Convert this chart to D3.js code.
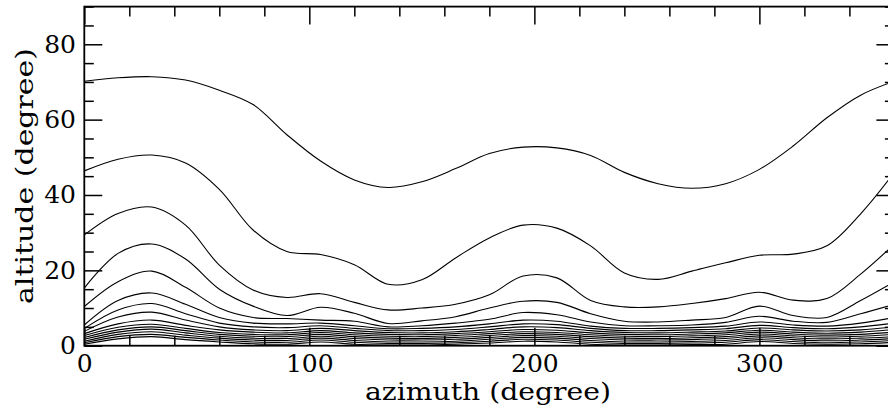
<!DOCTYPE html>
<meta charset="utf-8">
<html>
<head>
<script src="https://d3js.org/d3.v7.min.js"></script>
<style>
body { margin: 0; background: #fff; }
svg text { font-family: "DejaVu Serif", serif; fill: #000; }
.contour { fill: none; stroke: #000; stroke-width: 1.1; }
.tick line { stroke: #000; stroke-width: 1.5; }
.domain { display: none; }
</style>
</head>
<body>
<svg width="888" height="414"></svg>
<script>
// azimuth samples (degree)
var azimuth = [0, 15, 30, 45, 60, 75, 90, 105, 120, 135, 150, 165, 180,
               195, 210, 225, 240, 255, 270, 285, 300, 315, 330, 345, 360];

// altitude of each contour line (degree)
var line1 = [70.2, 71.1, 71.4, 70.5, 67.8, 64.0, 56.0, 49.0, 44.0, 42.0, 43.5, 47.0, 51.0,
             52.7, 52.5, 50.5, 46.0, 43.0, 41.8, 43.0, 46.8, 53.0, 60.5, 66.5, 70.2];
var line2 = [46.4, 49.5, 50.6, 48.5, 41.5, 30.7, 25.0, 24.2, 21.5, 16.3, 17.5, 23.3, 28.6,
             32.0, 31.2, 26.5, 19.3, 17.6, 19.8, 22.0, 24.0, 24.3, 26.5, 35.0, 46.0];
var line3 = [29.4, 35.1, 36.8, 32.0, 21.4, 14.8, 12.8, 13.8, 11.5, 9.5, 10.0, 11.0, 13.5,
             18.5, 18.0, 12.0, 10.3, 10.3, 11.2, 12.5, 14.2, 12.1, 12.5, 19.0, 27.0];
var line4 = [15.3, 24.5, 27.0, 23.0, 15.0, 10.5, 8.0, 10.2, 8.6, 5.9, 6.6, 7.7, 10.0,
             11.8, 11.5, 8.5, 6.5, 6.3, 6.8, 7.5, 10.5, 8.0, 7.5, 12.0, 17.0];
var line5 = [10.4, 17.0, 19.8, 15.5, 10.0, 7.5, 7.2, 6.8, 6.5, 5.0, 5.3, 6.0, 7.0,
             8.8, 8.2, 6.3, 5.3, 5.3, 5.5, 6.2, 7.8, 6.5, 6.2, 8.5, 11.0];
var line6 = [5.5, 12.0, 14.0, 11.0, 7.5, 6.0, 5.8, 6.0, 5.3, 4.5, 4.6, 5.0, 5.8,
             6.8, 6.5, 5.2, 4.6, 4.6, 4.8, 5.2, 6.3, 5.5, 5.2, 6.0, 7.5];
var line7 = [4.6, 9.5, 11.2, 8.5, 6.0, 5.0, 4.8, 5.3, 4.6, 4.0, 4.0, 4.3, 5.0,
             5.8, 5.6, 4.6, 4.0, 4.0, 4.2, 4.5, 5.4, 4.8, 4.5, 5.0, 6.0];
var line8 = [3.8, 7.6, 8.9, 6.8, 5.0, 4.2, 4.0, 4.6, 4.0, 3.5, 3.4, 3.7, 4.3,
             5.0, 4.8, 4.0, 3.5, 3.4, 3.6, 3.9, 4.7, 4.2, 3.9, 4.2, 5.0];
var line9 = [3.2, 5.8, 6.8, 5.4, 4.2, 3.6, 3.4, 4.0, 3.4, 3.0, 2.9, 3.2, 3.7,
             4.3, 4.1, 3.4, 3.0, 2.9, 3.1, 3.4, 4.1, 3.6, 3.3, 3.6, 4.3];
var line10 = [2.7, 4.9, 5.7, 4.6, 3.5, 3.0, 2.9, 3.5, 2.9, 2.5, 2.4, 2.7, 3.2,
              3.7, 3.5, 2.9, 2.5, 2.4, 2.6, 2.9, 3.6, 3.1, 2.8, 3.0, 3.6];
var line11 = [2.2, 4.2, 5.0, 4.0, 3.0, 2.5, 2.4, 3.0, 2.4, 2.0, 1.9, 2.2, 2.7,
              3.2, 3.0, 2.4, 2.0, 1.9, 2.1, 2.4, 3.1, 2.6, 2.3, 2.5, 3.0];
var line12 = [1.7, 3.6, 4.4, 3.4, 2.5, 2.0, 1.9, 2.5, 1.9, 1.5, 1.5, 1.7, 2.2,
              2.7, 2.5, 1.9, 1.5, 1.5, 1.6, 1.9, 2.6, 2.1, 1.8, 2.0, 2.4];
var line13 = [1.2, 3.0, 3.7, 2.8, 2.0, 1.5, 1.4, 2.0, 1.4, 1.0, 1.0, 1.2, 1.7,
              2.2, 2.0, 1.4, 1.0, 1.0, 1.1, 1.4, 2.1, 1.6, 1.3, 1.5, 1.9];
var line14 = [0.8, 2.4, 3.0, 2.2, 1.5, 1.0, 0.9, 1.5, 0.9, 0.6, 0.6, 0.8, 1.2,
              1.7, 1.5, 0.9, 0.6, 0.6, 0.7, 0.9, 1.6, 1.1, 0.8, 1.0, 1.4];
var line15 = [0.4, 1.8, 2.4, 1.6, 1.0, 0.5, 0.4, 1.0, 0.4, 0.2, 0.2, 0.4, 0.7,
              1.2, 1.0, 0.4, 0.2, 0.2, 0.3, 0.4, 1.1, 0.6, 0.4, 0.5, 0.9];

var contours = [line1, line2, line3, line4, line5, line6, line7, line8,
                line9, line10, line11, line12, line13, line14, line15];

var xMajor = [0, 100, 200, 300];
var yMajor = [0, 20, 40, 60, 80];

var svg = d3.select("svg");

var x = d3.scaleLinear().domain([0, 360]).range([84.3, 894.4]);
var y = d3.scaleLinear().domain([0, 90]).range([345.7, 6.6]);

var xMinor = d3.range(0, 361, 20).filter(function(d) { return d % 100 != 0; });
var yMinor = d3.range(0, 91, 5).filter(function(d) { return d % 20 != 0; });

var plot = svg.append("g");

// contour lines
var line = d3.line()
    .x(function(d, i) { return x(azimuth[i]); })
    .y(function(d) { return y(d); })
    .curve(d3.curveCatmullRom);

plot.selectAll(".contour")
  .data(contours)
  .enter().append("path")
    .attr("class", "contour")
    .attr("d", line);

// frame
svg.append("rect")
    .attr("x", x(0)).attr("y", y(90))
    .attr("width", x(360) - x(0)).attr("height", y(0) - y(90))
    .attr("fill", "none").attr("stroke", "#000").attr("stroke-width", 1.8);

// inward ticks on all four sides
function ticks(axis, vals, size, transform) {
  svg.append("g")
      .attr("transform", transform)
      .call(axis.tickValues(vals).tickSize(-size).tickFormat(""));
}
ticks(d3.axisBottom(x), xMajor, 18, "translate(0," + y(0) + ")");
ticks(d3.axisBottom(x), xMinor, 10, "translate(0," + y(0) + ")");
ticks(d3.axisTop(x), xMajor, 18, "translate(0," + y(90) + ")");
ticks(d3.axisTop(x), xMinor, 10, "translate(0," + y(90) + ")");
ticks(d3.axisLeft(y), yMajor, 18, "translate(" + x(0) + ",0)");
ticks(d3.axisLeft(y), yMinor, 9.5, "translate(" + x(0) + ",0)");
ticks(d3.axisRight(y), yMajor, 18, "translate(" + x(360) + ",0)");
ticks(d3.axisRight(y), yMinor, 9.5, "translate(" + x(360) + ",0)");

// tick labels
var xl = svg.append("g")
    .attr("transform", "translate(0," + y(0) + ")")
    .call(d3.axisBottom(x).tickValues(xMajor).tickSize(0).tickPadding(8.5));
var yl = svg.append("g")
    .attr("transform", "translate(" + x(0) + ",0)")
    .call(d3.axisLeft(y).tickValues(yMajor).tickSize(0).tickPadding(8.3));
svg.selectAll(".tick text")
    .style("font-family", "'DejaVu Serif', serif")
    .style("font-size", "25px")
    .attr("fill", "#000");

// axis titles
svg.append("text")
    .attr("x", 488)
    .attr("y", 400)
    .attr("text-anchor", "middle")
    .attr("textLength", 246)
    .attr("lengthAdjust", "spacingAndGlyphs")
    .style("font-size", "25px")
    .text("azimuth (degree)");

svg.append("text")
    .attr("transform", "translate(33,176) rotate(-90)")
    .attr("text-anchor", "middle")
    .attr("textLength", 256)
    .attr("lengthAdjust", "spacingAndGlyphs")
    .style("font-size", "25px")
    .text("altitude (degree)");
</script>
</body>
</html>
